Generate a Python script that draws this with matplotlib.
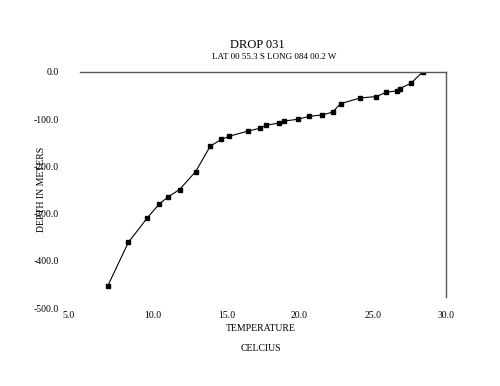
import matplotlib.pyplot as plt
from matplotlib.transforms import ScaledTranslation

# temperature (C) and depth (m), deepest first
temperature = [6.9, 8.3, 9.6, 10.4, 11.0, 11.8, 12.9, 13.9, 14.65, 15.2,
               16.5, 17.3, 17.7, 18.6, 18.95, 19.9, 20.65, 21.55, 22.25, 22.8,
               24.15, 25.25, 25.9, 26.65, 26.85, 27.6, 28.4]
depth = [-453, -361, -309, -280, -265, -249, -211, -157, -143, -136,
         -125, -119, -113, -108, -104, -100, -94, -91, -85, -67,
         -55, -52, -43, -40, -35, -24, 0]

x_ticks = [5.0, 10.0, 15.0, 20.0, 25.0, 30.0]
y_ticks = [0.0, -100.0, -200.0, -300.0, -400.0, -500.0]

plt.rcParams['font.family'] = ['Liberation Serif', 'DejaVu Serif']

fig = plt.figure(figsize=(5.0, 3.86), dpi=100)
ax = fig.add_axes([0.16, 0.202, 0.732, 0.6115])

ax.plot(temperature, depth, color="black", linewidth=0.8,
        marker="s", markersize=2.2, markerfacecolor="black", markeredgecolor="black")

ax.set_xlim(5, 30)
ax.set_ylim(-500, 0)
ax.set_xticks(x_ticks)
ax.set_yticks(y_ticks)
ax.set_xticklabels([f"{v:.1f}" for v in x_ticks], fontsize=7)
ax.set_yticklabels([f"{v:.1f}" for v in y_ticks], fontsize=7)
ax.tick_params(axis="both", length=0)
ax.tick_params(axis="x", pad=2)
ax.tick_params(axis="y", pad=15)

# first x label sits left of the axis start, like the original
lbl = ax.get_xticklabels()[0]
lbl.set_transform(lbl.get_transform() + ScaledTranslation(-0.11, 0, fig.dpi_scale_trans))

# the axes cross at depth 0 and at 30 C
for side in ["left", "bottom"]:
    ax.spines[side].set_visible(False)
for side in ["top", "right"]:
    ax.spines[side].set_color("#5a5a5a")
    ax.spines[side].set_linewidth(1.0)
ax.spines["right"].set_bounds(-477, 0)

fig.text(0.514, 0.883, "DROP 031", ha="center", va="center", fontsize=9)
fig.text(0.548, 0.853, "LAT 00 55.3 S LONG 084 00.2 W", ha="center", va="center", fontsize=6.5)
fig.text(0.522, 0.148, "TEMPERATURE", ha="center", va="center", fontsize=7)
fig.text(0.522, 0.096, "CELCIUS", ha="center", va="center", fontsize=7)
fig.text(0.084, 0.51, "DEPTH IN METERS", ha="center", va="center", rotation=90, fontsize=7)

plt.savefig("out.png", dpi=100)
plt.close()
